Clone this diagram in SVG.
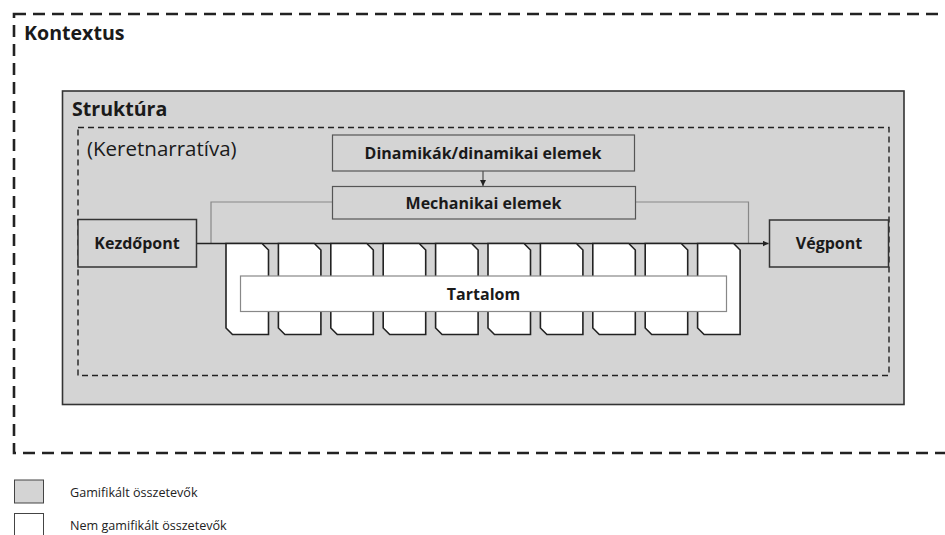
<svg xmlns="http://www.w3.org/2000/svg" width="945" height="535" viewBox="0 0 945 535">
  <defs>
    <style>
      .t { font-family: "Open Sans", "Noto Sans", "DejaVu Sans", sans-serif; fill: #1a1a1a; }
      .title { font-size: 19.6px; font-weight: 700; }
      .lbl { font-size: 16px; font-weight: 700; text-anchor: middle; }
      .leg { font-size: 12.6px; fill: #222; }
      .gbox { fill: #d4d4d4; stroke: #333; stroke-width: 1.5; }
      .sbox { fill: #d4d4d4; stroke: #555; stroke-width: 1.2; }
      .card { fill: #ffffff; stroke: #222; stroke-width: 1.6; stroke-linejoin: miter; }
    </style>
    <marker id="arr" viewBox="0 0 10 10" refX="10" refY="5" markerWidth="6" markerHeight="6" orient="auto" markerUnits="userSpaceOnUse">
      <path d="M0,0 L10,5 L0,10 Z" fill="#222"/>
    </marker>
  </defs>

  <rect width="945" height="535" fill="#ffffff"/>

  <!-- Context frame -->
  <g id="kontextus">
    <rect x="14" y="14" width="950" height="439" fill="none" stroke="#222" stroke-width="2.6" stroke-dasharray="12,7"/>
    <text class="t title" x="24" y="39.5">Kontextus</text>
  </g>

  <!-- Structure -->
  <g id="struktura">
    <rect x="62.5" y="91" width="841.5" height="313.5" fill="#d4d4d4" stroke="#333" stroke-width="1.6"/>
    <text class="t title" x="72" y="116">Struktúra</text>
  </g>

  <!-- Frame narrative -->
  <g id="keretnarrativa">
    <rect x="78" y="127.5" width="811" height="248" fill="none" stroke="#222" stroke-width="1.4" stroke-dasharray="6,4"/>
    <text class="t" x="87" y="155.5" font-size="20.5">(Keretnarratíva)</text>
  </g>

  <!-- Connectors -->
  <g id="connectors" fill="none">
    <path d="M332.5,202 H211 V243.5" stroke="#888" stroke-width="1.2"/>
    <path d="M635,202 H748.5 V243.5" stroke="#888" stroke-width="1.2"/>
    <path d="M197,243.5 H768.5" stroke="#222" stroke-width="1.6" marker-end="url(#arr)"/>
    <path d="M483,171 V186" stroke="#333" stroke-width="1" marker-end="url(#arr)"/>
  </g>

  <!-- Content cards -->
  <g id="kartyak">
    <path class="card" d="M226,243.5 H262 L268.5,250 V334.5 H232.5 L226,328 Z"/>
    <path class="card" d="M278.4,243.5 H314.4 L320.9,250 V334.5 H284.9 L278.4,328 Z"/>
    <path class="card" d="M330.8,243.5 H366.8 L373.3,250 V334.5 H337.3 L330.8,328 Z"/>
    <path class="card" d="M383.2,243.5 H419.2 L425.7,250 V334.5 H389.7 L383.2,328 Z"/>
    <path class="card" d="M435.6,243.5 H471.6 L478.1,250 V334.5 H442.1 L435.6,328 Z"/>
    <path class="card" d="M488,243.5 H524 L530.5,250 V334.5 H494.5 L488,328 Z"/>
    <path class="card" d="M540.4,243.5 H576.4 L582.9,250 V334.5 H546.9 L540.4,328 Z"/>
    <path class="card" d="M592.8,243.5 H628.8 L635.3,250 V334.5 H599.3 L592.8,328 Z"/>
    <path class="card" d="M645.2,243.5 H681.2 L687.7,250 V334.5 H651.7 L645.2,328 Z"/>
    <path class="card" d="M697.6,243.5 H733.6 L740.1,250 V334.5 H704.1 L697.6,328 Z"/>
  </g>

  <g id="tartalom">
    <rect x="240.5" y="276" width="486" height="35.5" fill="#ffffff" stroke="#888" stroke-width="1.2"/>
    <text class="t lbl" x="483.5" y="299.5">Tartalom</text>
  </g>

  <g id="kezdopont">
    <rect class="gbox" x="78" y="219.5" width="118.5" height="47.5"/>
    <text class="t lbl" x="137" y="249">Kezdőpont</text>
  </g>

  <g id="vegpont">
    <rect class="gbox" x="769.5" y="220" width="119" height="47"/>
    <text class="t lbl" x="829" y="249">Végpont</text>
  </g>

  <g id="dinamikak">
    <rect class="sbox" x="332.5" y="135" width="302" height="36"/>
    <text class="t lbl" x="483" y="158.5">Dinamikák/dinamikai elemek</text>
  </g>

  <g id="mechanikai">
    <rect class="sbox" x="332.5" y="186.5" width="303" height="32.5"/>
    <text class="t lbl" x="483.5" y="208.5">Mechanikai elemek</text>
  </g>

  <!-- Legend -->
  <g id="jelmagyarazat">
    <rect x="14.5" y="480" width="29" height="23" fill="#d4d4d4" stroke="#444" stroke-width="1"/>
    <text class="t leg" x="70" y="497">Gamifikált összetevők</text>
    <rect x="14.5" y="513.5" width="29" height="30" fill="#ffffff" stroke="#444" stroke-width="1"/>
    <text class="t leg" x="70" y="530">Nem gamifikált összetevők</text>
  </g>
</svg>
